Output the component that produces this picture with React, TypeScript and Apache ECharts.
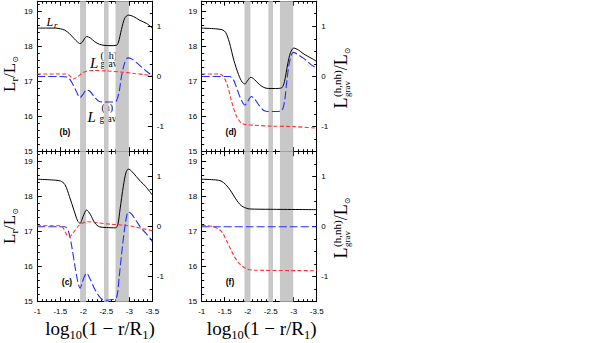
import React, { useEffect, useRef } from "react";
import * as echarts from "echarts";

// ---------- data ----------
const xTickLabels = [-1, -1.5, -2, -2.5, -3, -3.5];
const rightTickValues = [-1, 0, 1];
const bands = [
  [-1.93, -2.06],
  [-2.45, -2.55],
  [-2.7, -2.99],
];

// panel (b)
const b_Lr = [[-1, 18.52], [-1.2, 18.52], [-1.4, 18.52], [-1.5, 18.5], [-1.6, 18.46], [-1.7, 18.36], [-1.8, 18.22], [-1.87, 18.13], [-1.93, 18.08], [-1.98, 18.12], [-2.03, 18.23], [-2.08, 18.28], [-2.15, 18.24], [-2.25, 18.13], [-2.35, 18.06], [-2.45, 18.03], [-2.6, 18.02], [-2.72, 18.03], [-2.76, 18.1], [-2.83, 18.48], [-2.9, 18.8], [-2.98, 18.89], [-3.09, 18.85], [-3.23, 18.74], [-3.38, 18.65], [-3.5, 18.52]];
const b_gravH = [[-1, 0], [-1.5, 0], [-1.65, -0.01], [-1.75, -0.12], [-1.85, -0.3], [-1.93, -0.42], [-2, -0.35], [-2.06, -0.27], [-2.15, -0.3], [-2.25, -0.42], [-2.35, -0.5], [-2.5, -0.51], [-2.65, -0.51], [-2.72, -0.49], [-2.78, -0.3], [-2.83, 0], [-2.9, 0.27], [-2.97, 0.37], [-3.05, 0.35], [-3.15, 0.28], [-3.25, 0.2], [-3.35, 0.12], [-3.45, 0.05], [-3.5, 0.02]];
const b_gravNH = [[-1, 0.05], [-1.6, 0.05], [-1.7, 0.02], [-1.78, -0.05], [-1.86, -0.02], [-1.95, 0.05], [-2.05, 0.1], [-2.2, 0.12], [-2.5, 0.11], [-2.8, 0.09], [-3.1, 0.06], [-3.3, 0.04], [-3.5, 0.01]];

// panel (d)
const d_Lr = [[-1, 18.52], [-1.3, 18.5], [-1.45, 18.47], [-1.52, 18.4], [-1.6, 18.12], [-1.7, 17.6], [-1.8, 17.2], [-1.88, 16.98], [-1.94, 16.93], [-2, 17.03], [-2.07, 17.12], [-2.15, 17.05], [-2.25, 16.92], [-2.35, 16.83], [-2.45, 16.8], [-2.6, 16.8], [-2.74, 16.82], [-2.8, 17.0], [-2.87, 17.5], [-2.93, 17.82], [-3, 17.95], [-3.1, 17.9], [-3.2, 17.8], [-3.3, 17.72], [-3.4, 17.65], [-3.5, 17.57]];
const d_gravH = [[-1, 0], [-1.6, 0], [-1.68, -0.05], [-1.75, -0.2], [-1.85, -0.45], [-1.94, -0.57], [-2, -0.5], [-2.08, -0.4], [-2.15, -0.45], [-2.25, -0.58], [-2.35, -0.68], [-2.45, -0.7], [-2.6, -0.7], [-2.74, -0.68], [-2.8, -0.5], [-2.85, -0.1], [-2.9, 0.25], [-2.96, 0.45], [-3, 0.48], [-3.1, 0.43], [-3.2, 0.37], [-3.3, 0.3], [-3.4, 0.22], [-3.5, 0.17]];
const d_gravNH = [[-1, 0.05], [-1.35, 0.05], [-1.45, 0.02], [-1.55, -0.15], [-1.65, -0.5], [-1.75, -0.78], [-1.85, -0.92], [-1.95, -0.96], [-2.1, -0.97], [-2.5, -0.99], [-3, -1.0], [-3.5, -1.03]];

// panel (c)
const c_Lr = [[-1, 18.5], [-1.3, 18.48], [-1.5, 18.45], [-1.6, 18.35], [-1.7, 18.0], [-1.8, 17.6], [-1.88, 17.3], [-1.93, 17.24], [-2, 17.45], [-2.07, 17.62], [-2.15, 17.5], [-2.25, 17.25], [-2.35, 17.14], [-2.5, 17.12], [-2.7, 17.11], [-2.75, 17.2], [-2.8, 17.65], [-2.87, 18.3], [-2.93, 18.7], [-2.98, 18.79], [-3.05, 18.73], [-3.15, 18.58], [-3.25, 18.43], [-3.35, 18.3], [-3.5, 18.05]];
const c_gravH = [[-1, 0], [-1.6, 0], [-1.68, -0.1], [-1.75, -0.4], [-1.82, -0.8], [-1.88, -1.1], [-1.93, -1.23], [-2, -1.05], [-2.07, -0.93], [-2.15, -1.05], [-2.25, -1.25], [-2.35, -1.4], [-2.45, -1.47], [-2.6, -1.46], [-2.72, -1.42], [-2.78, -1.0], [-2.85, -0.4], [-2.92, 0.1], [-2.98, 0.3], [-3.05, 0.25], [-3.15, 0.12], [-3.25, -0.02], [-3.35, -0.12], [-3.45, -0.23], [-3.5, -0.3]];
const c_gravNH = [[-1, 0.02], [-1.5, 0.02], [-1.58, -0.05], [-1.65, -0.18], [-1.7, -0.2], [-1.78, -0.12], [-1.9, 0.02], [-2, 0.08], [-2.1, 0.1], [-2.3, 0.08], [-2.6, 0.05], [-2.9, 0.03], [-3.1, 0], [-3.3, -0.04], [-3.5, -0.08]];

// panel (f)
const f_Lr = [[-1, 18.5], [-1.3, 18.48], [-1.42, 18.45], [-1.52, 18.35], [-1.62, 18.19], [-1.7, 18.02], [-1.76, 17.9], [-1.83, 17.78], [-1.9, 17.71], [-2.04, 17.65], [-2.5, 17.64], [-3.5, 17.63]];
const f_gravH = [[-1, 0], [-2, 0], [-3, 0], [-3.5, 0]];
const f_gravNH = [[-1, 0.03], [-1.2, 0.01], [-1.35, -0.04], [-1.45, -0.12], [-1.55, -0.3], [-1.62, -0.43], [-1.7, -0.58], [-1.8, -0.72], [-1.9, -0.8], [-2, -0.85], [-2.15, -0.87], [-3.5, -0.88]];

const panelLabels = ["(b)", "(d)", "(c)", "(f)"];

// ---------- layout ----------
const PANELS = [
  { lr: b_Lr, h: b_gravH, nh: b_gravNH, left: 37.3, top: 1.2, height: 150.5, xLabels: false, lab: [65, 132] },
  { lr: d_Lr, h: d_gravH, nh: d_gravNH, left: 201.7, top: 1.2, height: 150.5, xLabels: false, lab: [231, 132] },
  { lr: c_Lr, h: c_gravH, nh: c_gravNH, left: 37.3, top: 151.7, height: 150, xLabels: true, lab: [67, 282] },
  { lr: f_Lr, h: f_gravH, nh: f_gravNH, left: 201.7, top: 151.7, height: 150, xLabels: true, lab: [230, 282] },
];

const SERIF = "Liberation Serif";
const SANS = "Liberation Sans";
const SUNFONT = "DejaVu Sans";

let _ctx: CanvasRenderingContext2D | null = null;
function measure(text: string, fs: number, family: string, italic = false) {
  if (!_ctx) _ctx = document.createElement("canvas").getContext("2d");
  if (!_ctx) return text.length * fs * 0.5;
  _ctx.font = `${italic ? "italic " : ""}${fs}px "${family}"`;
  return _ctx.measureText(text).width;
}

function txt(text: string, x: number, base: number, fs: number, o: any = {}) {
  return {
    type: "text",
    x,
    y: base - 0.34 * fs,
    silent: true,
    style: {
      text,
      fontSize: fs,
      fontFamily: o.family || SERIF,
      fontStyle: o.italic ? "italic" : "normal",
      fontWeight: o.bold ? "bold" : "normal",
      fill: "#000",
      textAlign: "left",
      textVerticalAlign: "middle",
    },
  };
}

// run: {t, fs, dy?, family?, stack?: [{t, fs, dy}]}
function layoutRuns(runs: any[], center: number) {
  const widths = runs.map((r) => {
    if (r.stack) return Math.max(...r.stack.map((s: any) => measure(s.t, s.fs, s.family || SERIF)));
    return measure(r.t, r.fs, r.family || SERIF) + (r.pad || 0);
  });
  const total = widths.reduce((a, b) => a + b, 0);
  let x = center - total / 2;
  const out: any[] = [];
  runs.forEach((r, i) => {
    if (r.stack) {
      r.stack.forEach((s: any) => out.push(txt(s.t, x, s.dy || 0, s.fs, { family: s.family })));
    } else {
      out.push(txt(r.t, x, r.dy || 0, r.fs, { family: r.family }));
    }
    x += widths[i];
  });
  return out;
}

function leftTitle(x: number, cy: number) {
  return {
    type: "group",
    x,
    y: cy,
    rotation: Math.PI / 2,
    children: layoutRuns(
      [
        { t: "L", fs: 17 },
        { t: "r", fs: 11, dy: 3 },
        { t: "/", fs: 17 },
        { t: "L", fs: 17 },
        { t: "\u2299", fs: 8, dy: 3.5, family: SUNFONT },
      ],
      0
    ),
  };
}
function rightTitle(x: number, cy: number) {
  return {
    type: "group",
    x,
    y: cy,
    rotation: Math.PI / 2,
    children: layoutRuns(
      [
        { t: "L", fs: 18, pad: 0.5 },
        { stack: [{ t: "(h,nh)", fs: 11, dy: -6.5 }, { t: "grav", fs: 9, dy: 3 }] },
        { t: "/", fs: 18 },
        { t: "L", fs: 18 },
        { t: "\u2299", fs: 8, dy: 3, family: SUNFONT },
      ],
      0
    ),
  };
}
function xTitle(center: number) {
  const els = layoutRuns(
    [
      { t: "log", fs: 19 },
      { t: "10", fs: 12.5, dy: 4.5 },
      { t: "(1 \u2212 r/R", fs: 19 },
      { t: "1", fs: 12.5, dy: 4.5 },
      { t: ")", fs: 19 },
    ],
    center
  );
  return els.map((e: any) => ({ ...e, y: e.y + 335 }));
}

const black = "#000";

function buildOption() {
  const grid: any[] = [];
  const xAxis: any[] = [];
  const yAxis: any[] = [];
  const series: any[] = [];
  const n = PANELS.length;

  const tickBase = { inside: true, length: 4.5, lineStyle: { color: black, width: 1 } };
  const minorBase = { show: true, length: 2.5, lineStyle: { color: black, width: 1 } };
  const lineBase = { show: true, onZero: false, lineStyle: { color: black, width: 1 } };
  const lblBase = { color: black, fontSize: 8, fontFamily: SANS };

  PANELS.forEach((p, i) => {
    grid.push({ left: p.left, top: p.top, width: 115, height: p.height });
    xAxis[i] = {
      gridIndex: i, type: "value", min: -3.5, max: -1, interval: 0.5, inverse: true, position: "bottom",
      axisLine: lineBase, axisTick: tickBase, minorTick: { ...minorBase, splitNumber: 5 },
      splitLine: { show: false }, minorSplitLine: { show: false },
      axisLabel: { ...lblBase, show: p.xLabels, margin: 6, customValues: xTickLabels },
    };
    xAxis[n + i] = {
      gridIndex: i, type: "value", min: -3.5, max: -1, interval: 0.5, inverse: true, position: "top",
      axisLine: lineBase, axisTick: tickBase, minorTick: { ...minorBase, splitNumber: 5 },
      splitLine: { show: false }, axisLabel: { show: false },
    };
    yAxis[i] = {
      gridIndex: i, type: "value", min: 15, max: 19.2857, interval: 1, position: "left",
      axisLine: lineBase, axisTick: tickBase, minorTick: { ...minorBase, splitNumber: 5 },
      splitLine: { show: false }, minorSplitLine: { show: false },
      axisLabel: { ...lblBase, margin: 4.5, showMaxLabel: false },
    };
    yAxis[n + i] = {
      gridIndex: i, type: "value", min: -1.5, max: 1.5, interval: 0.25, position: "right",
      axisLine: lineBase, axisTick: { ...tickBase, length: 2.5 }, splitLine: { show: false },
      axisLabel: { show: false },
    };
    yAxis[2 * n + i] = {
      gridIndex: i, type: "value", min: -1.5, max: 1.5, interval: 0.5, position: "right",
      axisLine: { show: false }, axisTick: { ...tickBase, customValues: rightTickValues }, splitLine: { show: false },
      axisLabel: { ...lblBase, margin: 4.5, customValues: rightTickValues },
    };

    series.push({
      type: "line", xAxisIndex: i, yAxisIndex: i, data: [], z: 1, silent: true,
      markArea: {
        silent: true,
        itemStyle: { color: "#c8c8c8", opacity: 1 },
        data: bands.map(([a, b]) => [{ xAxis: a }, { xAxis: b }]),
      },
    });
    series.push({
      type: "line", xAxisIndex: i, yAxisIndex: i, data: p.lr, symbol: "none", smooth: 0.3, z: 4,
      lineStyle: { color: black, width: 1 },
    });
    series.push({
      type: "line", xAxisIndex: i, yAxisIndex: n + i, data: p.h, symbol: "none", smooth: 0.3, z: 5,
      lineStyle: { color: "#2030ff", width: 1.1, type: [8, 3] },
    });
    series.push({
      type: "line", xAxisIndex: i, yAxisIndex: n + i, data: p.nh, symbol: "none", smooth: 0.3, z: 6,
      lineStyle: { color: "#ff3030", width: 1.1, type: [4, 2.2] },
    });
  });

  const elements: any[] = [
    leftTitle(15, 74),
    leftTitle(15, 226),
    rightTitle(347, 78),
    rightTitle(347, 228),
    ...xTitle(100),
    ...xTitle(261.7),
    // in-panel annotations (b)
    txt("L", 46.5, 26, 12, { italic: true }),
    txt("r", 54, 28, 9, { italic: true }),
    txt("L", 90, 68, 15, { italic: true }),
    txt("(nh)", 100.5, 58.5, 10),
    txt("grav", 100.5, 67.5, 9.5),
    txt("L", 87.5, 122.5, 15, { italic: true }),
    txt("(h)", 101.5, 111, 10),
    txt("grav", 99.5, 122, 9.5),
  ];
  PANELS.forEach((p, i) => {
    elements.push({
      type: "text", x: p.lab[0], y: p.lab[1], silent: true,
      style: { text: panelLabels[i], fontSize: 8.5, fontWeight: "bold", fontFamily: SANS, fill: black, textAlign: "center", textVerticalAlign: "middle" },
    });
  });

  return {
    animation: false,
    backgroundColor: "#fff",
    grid,
    xAxis,
    yAxis,
    series,
    graphic: { elements },
  };
}

export default function App() {
  const ref = useRef<HTMLDivElement>(null);
  useEffect(() => {
    if (!ref.current) return;
    const chart = echarts.init(ref.current, undefined, { renderer: "svg" });
    chart.setOption(buildOption() as any);
    return () => chart.dispose();
  }, []);
  return <div ref={ref} style={{ position: "absolute", left: 0, top: 0, width: 606, height: 343 }} />;
}
